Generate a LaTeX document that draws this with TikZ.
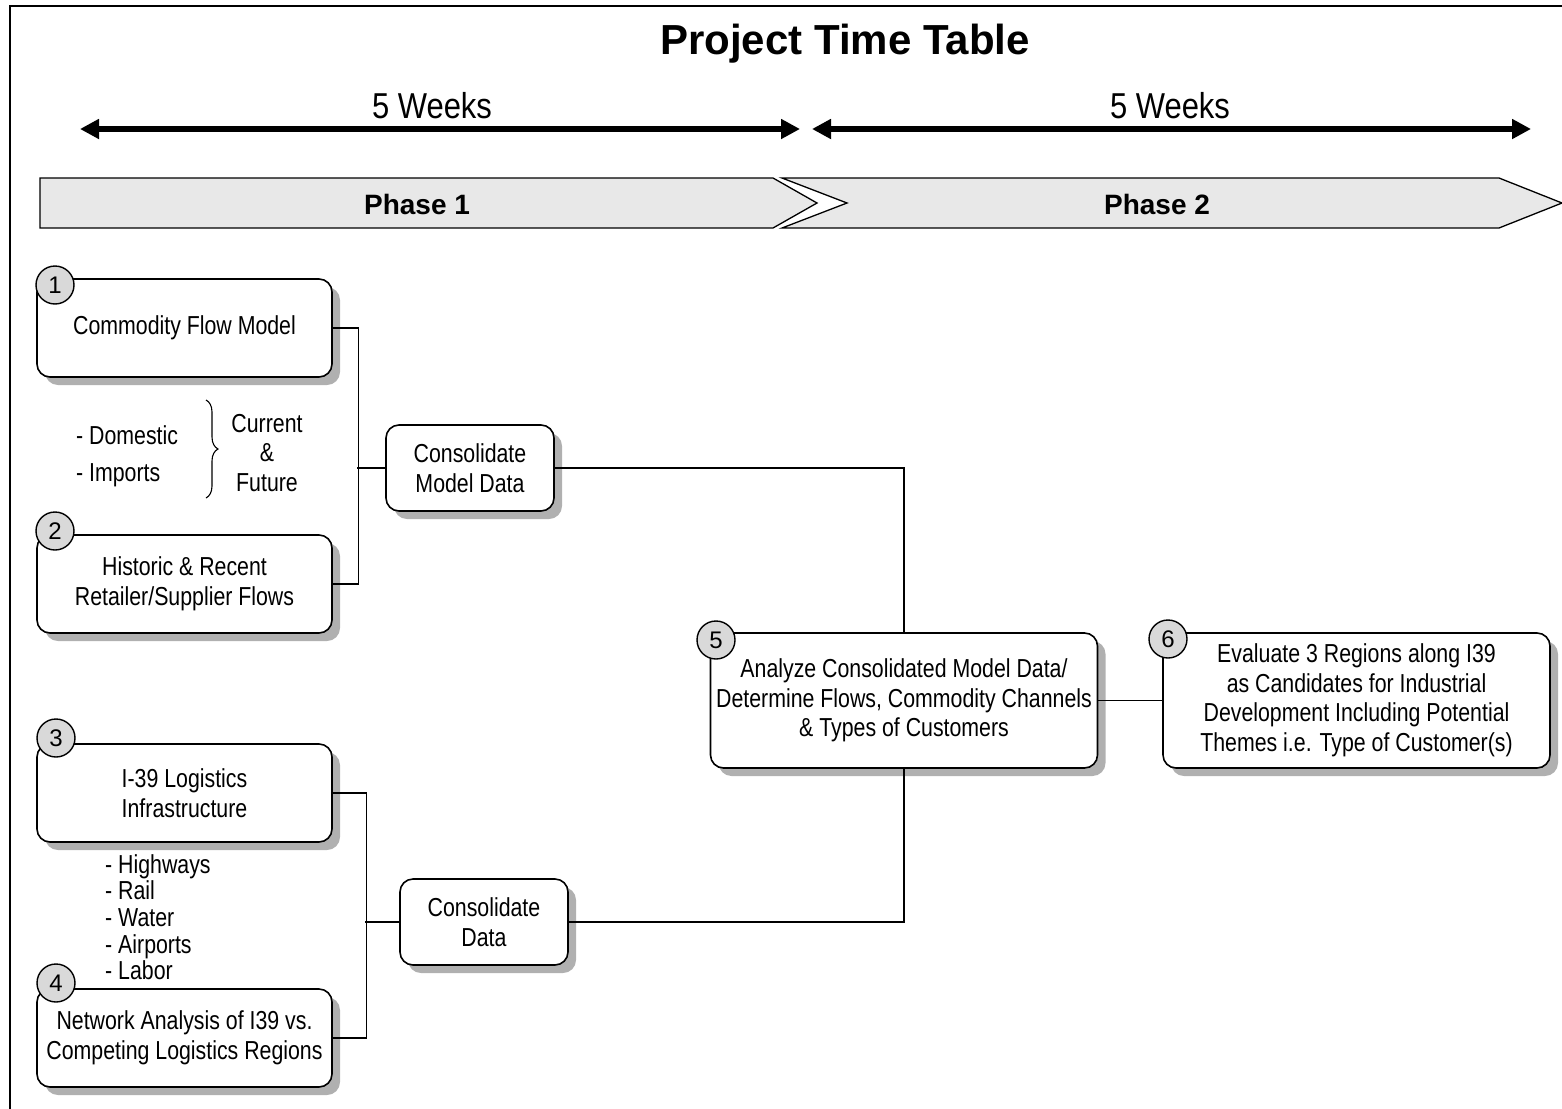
\documentclass[tikz,border=0pt]{standalone}
\usepackage{fontspec}
\setmainfont{Liberation Sans}
\newfontfamily\narrowfont[FakeStretch=0.82]{Liberation Sans}
\newfontfamily\weekfont[FakeStretch=0.86]{Liberation Sans}
\usetikzlibrary{arrows.meta,shadows,decorations.pathreplacing}
\definecolor{barfill}{HTML}{E8E8E8}
\definecolor{numfill}{HTML}{D9D9D9}
\definecolor{shadowgray}{HTML}{B0B0B0}
\tikzset{
  boxstyle/.style={draw=black, line width=1.6pt, rounded corners=13pt, fill=white,
    align=center, inner sep=0pt,
    font=\narrowfont\fontsize{26}{29.5}\selectfont,
    drop shadow={shadow xshift=8pt, shadow yshift=-8pt, fill=shadowgray, opacity=1}},
  numstyle/.style={draw=black, line width=1.4pt, circle, fill=numfill, minimum size=38pt,
    inner sep=0pt, font=\fontsize{24}{24}\selectfont},
  liststyle/.style={anchor=base west, inner sep=0pt, font=\narrowfont\fontsize{26}{27}\selectfont},
  notestyle/.style={anchor=base, inner sep=0pt, font=\narrowfont\fontsize{26}{27}\selectfont},
  conn/.style={draw=black, line width=1.3pt},
  weekarrow/.style={line width=6pt, {Triangle[length=19pt,width=19pt]}-{Triangle[length=19pt,width=19pt]}},
  phasebar/.style={draw=black, line width=1.3pt, fill=barfill}
}
\begin{document}
\begin{tikzpicture}[x=1pt,y=-1pt]
\useasboundingbox (0,0) rectangle (1562,1108);
\clip (0,0) rectangle (1562,1108);
% frame
\draw[line width=1.6pt] (10,1200) -- (10,6) -- (1700,6);
% title
\node[anchor=base, inner sep=0pt, font=\bfseries\fontsize{42}{46}\selectfont] (title) at (845,55) {Project Time Table};
% week arrows
\coordinate (a1l) at (80,129);
\coordinate (a1r) at (800,129);
\coordinate (a2l) at (812,129);
\coordinate (a2r) at (1531,129);
\draw[weekarrow] (a1l) -- (a1r);
\draw[weekarrow] (a2l) -- (a2r);
\node[anchor=base, inner sep=0pt, font=\weekfont\fontsize{36}{40}\selectfont] (w1) at (432,118) {5 Weeks};
\node[anchor=base, inner sep=0pt, font=\weekfont\fontsize{36}{40}\selectfont] (w2) at (1170,118) {5 Weeks};
% phase bars
\draw[phasebar] (40,178) -- (773,178) -- (817,203) -- (773,228) -- (40,228) -- cycle;
\draw[phasebar] (782,178) -- (1499,178) -- (1562,203) -- (1499,228) -- (782,228) -- (847,203) -- cycle;
\node[anchor=base, inner sep=0pt, font=\bfseries\fontsize{28}{30}\selectfont] (p1) at (417,214) {Phase 1};
\node[anchor=base, inner sep=0pt, font=\bfseries\fontsize{28}{30}\selectfont] (p2) at (1157,214) {Phase 2};
% boxes
\node[boxstyle, minimum width=295pt, minimum height=98pt] (b1) at (184.5,328) {Commodity Flow Model};
\node[boxstyle, minimum width=295pt, minimum height=98pt] (b2) at (184.5,584) {Historic \& Recent\\Retailer/Supplier Flows};
\node[boxstyle, minimum width=295pt, minimum height=98pt] (b3) at (184.5,793) {I-39 Logistics\\Infrastructure};
\node[boxstyle, minimum width=295pt, minimum height=98pt] (b4) at (184.5,1038) {Network Analysis of I39 vs.\\Competing Logistics Regions};
\node[boxstyle, minimum width=168pt, minimum height=86pt] (cmd) at (470,468) {Consolidate\\Model Data};
\node[boxstyle, minimum width=168pt, minimum height=86pt] (cd) at (484,922) {Consolidate\\Data};
\node[boxstyle, minimum width=387pt, minimum height=135pt] (b5) at (904,700.5) {Analyze Consolidated Model Data/\\Determine Flows, Commodity Channels\\\& Types of Customers};
\node[boxstyle, minimum width=387pt, minimum height=135pt] (b6) at (1356.5,700.5) {Evaluate 3 Regions along I39\\as Candidates for Industrial\\Development Including Potential\\Themes i.e. Type of Customer(s)};
% number circles
\node[numstyle] (n1) at (55,285) {1};
\node[numstyle] (n2) at (55,531) {2};
\node[numstyle] (n3) at (56,738) {3};
\node[numstyle] (n4) at (56,983) {4};
\node[numstyle] (n5) at (716,640) {5};
\node[numstyle] (n6) at (1168,639) {6};
% connectors
\draw[conn] (b1.east) -- ++(26,0) |- (b2.east);
\draw[conn] (cmd.west) -- ++(-28,0);
\draw[conn] (b3.east) -- ++(34,0) |- (b4.east);
\draw[conn] (cd.west) -- ++(-34,0);
\draw[conn] (cmd.east) -| (b5.north);
\draw[conn] (b5.south) |- (cd.east);
\draw[conn] (b5.east) -- (b6.west);
% side notes
\node[liststyle] (l1) at (76,444) {- Domestic};
\node[liststyle] (l2) at (76,481) {- Imports};
\coordinate (brt) at (206,400);
\coordinate (brb) at (206,498);
\draw[line width=1.1pt, decorate, decoration={brace, amplitude=12pt}] (brt) -- (brb);
\node[notestyle] (cur) at (267,432) {Current};
\node[notestyle] (amp) at (267,461) {\&};
\node[notestyle] (fut) at (267,491) {Future};
\node[liststyle] (h1) at (105,873) {- Highways};
\node[liststyle] (h2) at (105,899) {- Rail};
\node[liststyle] (h3) at (105,926) {- Water};
\node[liststyle] (h4) at (105,953) {- Airports};
\node[liststyle] (h5) at (105,979) {- Labor};
\end{tikzpicture}
\end{document}
